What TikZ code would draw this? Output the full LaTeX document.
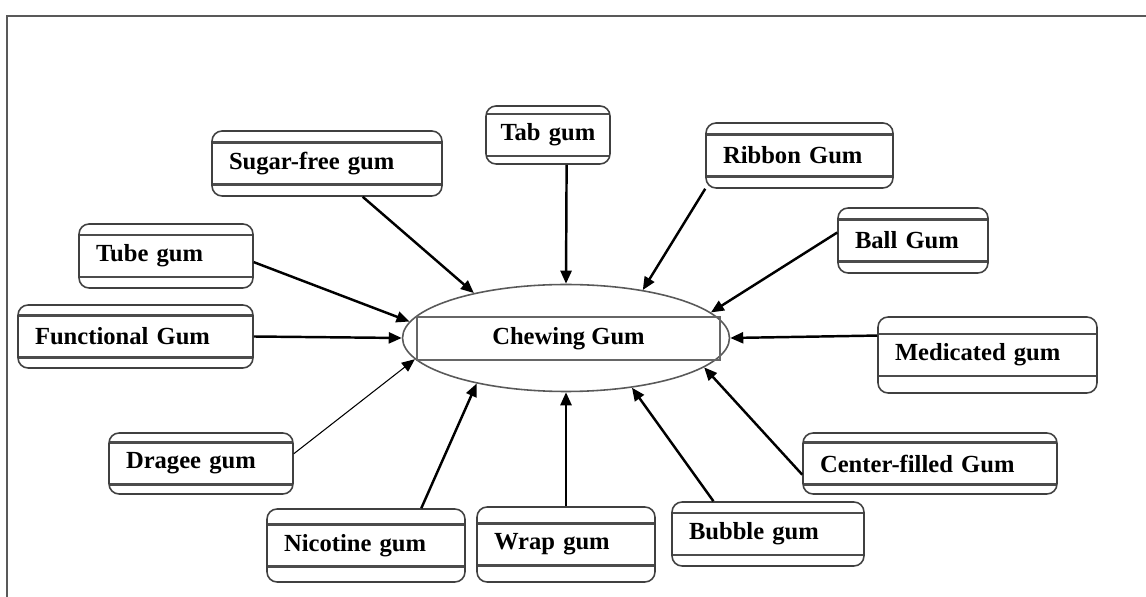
\documentclass[tikz,border=0pt]{standalone}
\usepackage{fontspec}
\setmainfont{Liberation Serif}
\usetikzlibrary{shapes.geometric,arrows.meta}
\tikzset{
    gum/.style={draw=black!75, line width=0.9pt, rounded corners=2mm, inner ysep=0, inner xsep=3.4mm,
        align=left, font=\fontsize{14}{16}\selectfont\bfseries,
        path picture={\draw[black!70, line width=1.2pt]
            ([yshift=4.2mm]path picture bounding box.west) -- ([yshift=4.2mm]path picture bounding box.east)
            ([yshift=-4.2mm]path picture bounding box.west) -- ([yshift=-4.2mm]path picture bounding box.east);}},
    hub/.style={ellipse, draw=black!65, line width=0.9pt, inner sep=0},
    hubbox/.style={draw=black!60, line width=1.4pt, inner sep=0, font=\fontsize{14}{16}\selectfont\bfseries},
    feed/.style={-{Triangle[length=2.6mm,width=2.2mm]}, line width=1.4pt},
    thinfeed/.style={-{Triangle[length=2.6mm,width=2.2mm]}, line width=0.6pt}
}

\begin{document}
\begin{tikzpicture}[x=0.02cm, y=-0.02cm]
    \useasboundingbox (0,0) rectangle (1146,597);
    \draw[black!65, line width=1.6pt] (7,597) -- (7,16) -- (1146,16);

    % centre
    \node[hub, minimum width=6.54cm, minimum height=2.14cm] (chew) at (566,338) {};
    \node[hubbox, minimum width=6.06cm, minimum height=0.86cm] (chewbox) at (568.5,338.5) {Chewing Gum};

    % kinds of gum
    \node[gum, text width=3.92cm, minimum height=1.3cm] (sugar) at (327,163.5) {Sugar-free gum};
    \node[gum, text width=1.9cm, inner xsep=2.9mm, minimum height=1.16cm] (tab) at (548,135) {Tab gum};
    \node[gum, text width=3.06cm, minimum height=1.3cm] (ribbon) at (799.5,155.5) {Ribbon Gum};
    \node[gum, text width=2.32cm, minimum height=1.3cm] (ball) at (913,240.5) {Ball Gum};
    \node[gum, text width=2.8cm, minimum height=1.28cm] (tube) at (166,256) {Tube gum};
    \node[gum, text width=4.02cm, minimum height=1.26cm] (func) at (135.5,336.5) {Functional Gum};
    \node[gum, text width=3.7cm, minimum height=1.52cm] (medic) at (987.5,355) {Medicated gum};
    \node[gum, text width=3.0cm, minimum height=1.22cm] (dragee) at (201,463.5) {Dragee gum};
    \node[gum, text width=4.4cm, minimum height=1.22cm] (cfill) at (930,463.5) {Center-filled Gum};
    \node[gum, text width=3.16cm, minimum height=1.28cm] (bubble) at (768,534) {Bubble gum};
    \node[gum, text width=2.88cm, minimum height=1.5cm] (wrap) at (566,544.5) {Wrap gum};
    \node[gum, text width=3.28cm, minimum height=1.46cm] (nicotine) at (366,545.5) {Nicotine gum};

    % arrows into the centre
    \draw[feed] (sugar.-43) -- (chew.154.7);
    \draw[feed] (tab.-58) -- (chew.90);
    \draw[feed] (ribbon.south west) -- (chew.32.6);
    \draw[feed] (ball.174) -- (chew.10.4);
    \draw[feed] (tube.-4) -- (chew.174.5);
    \draw[feed] (func.east) -- (chew.180);
    \draw[thinfeed] (dragee.6.5) -- (chew.188);
    \draw[feed] (medic.170.7) -- (chew.0);
    \draw[feed] (cfill.185) -- (chew.-12);
    \draw[feed] (bubble.149) -- (chew.-37.4);
    \draw[feed] (wrap.north) -- (chew.-90);
    \draw[feed] (nicotine.34) -- (chew.-153.2);
\end{tikzpicture}
\end{document}
